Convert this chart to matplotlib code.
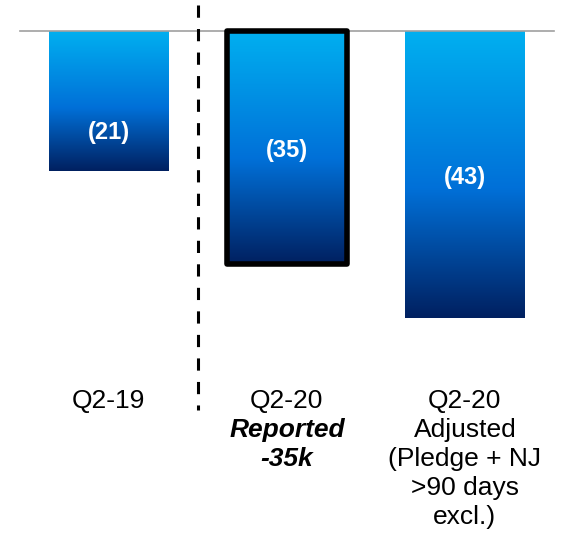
import numpy as np
import matplotlib
matplotlib.use("Agg")
import matplotlib.pyplot as plt
from matplotlib.colors import LinearSegmentedColormap

plt.rcParams['font.family'] = ['Liberation Sans', 'DejaVu Sans']

# Data
values = [-21, -35, -43]
value_labels = ["(21)", "(35)", "(43)"]
label_heights = [-15.2, -18.0, -22.0]          # where each value label sits
category_lines = [
    ["Q2-19"],
    ["Q2-20", "Reported", "-35k"],
    ["Q2-20", "Adjusted", "(Pledge + NJ", ">90 days", "excl.)"],
]
category_styles = [
    [("normal", "normal")],
    [("normal", "normal"), ("bold", "italic"), ("bold", "italic")],
    [("normal", "normal")] * 5,
]
highlight = 1  # bar drawn with a black frame

W, H, DPI = 563, 539, 100
fig = plt.figure(figsize=(W / DPI, H / DPI), dpi=DPI)
ax = fig.add_axes([0, 0, 1, 1])
ax.set_xlim(-0.612, 2.551)
ax.set_ylim(-76.1, 4.57)
ax.axis("off")

cmap = LinearSegmentedColormap.from_list(
    "blue_grad", [(0.0, "#00B0F0"), (0.55, "#0070D8"), (1.0, "#002060")])
grad = np.linspace(0, 1, 256).reshape(-1, 1)

x = np.arange(len(values))
bw = 0.674
bars = ax.bar(x, values, width=bw, color="none", edgecolor="none", zorder=2)
for i, (b, v) in enumerate(zip(bars, values)):
    x0 = b.get_x()
    im = ax.imshow(grad, cmap=cmap, aspect="auto",
                   extent=[x0, x0 + bw, v, 0], origin="upper",
                   interpolation="bilinear", zorder=2)
    im.set_clip_path(b)
    if i == highlight:
        ax.bar(x[i], v, width=bw, color="none", edgecolor="black",
               linewidth=4, joinstyle="round", zorder=4)
    ax.text(x[i], label_heights[i], value_labels[i], color="white",
            fontsize=17, fontweight="bold", ha="center", va="center",
            zorder=5)

# Zero line
ax.plot([-0.5, 2.5], [0, 0], color="#A0A0A0", linewidth=1.2, zorder=3)

# Divider
ln, = ax.plot([0.5, 0.5], [3.8, -56.8], color="black", linewidth=2.2,
              zorder=3)
ln.set_dashes((4, 3.7))

# Category labels
line_step = 29 / 6.68
top_baseline = -(408 - 30.5) / 6.68
for i, (lines, styles) in enumerate(zip(category_lines, category_styles)):
    for j, (txt, (wt, st)) in enumerate(zip(lines, styles)):
        ax.text(x[i], top_baseline - j * line_step, txt, fontsize=19,
                fontweight=wt, fontstyle=st, ha="center", va="baseline",
                color="black")

fig.savefig("out.png", dpi=DPI)
